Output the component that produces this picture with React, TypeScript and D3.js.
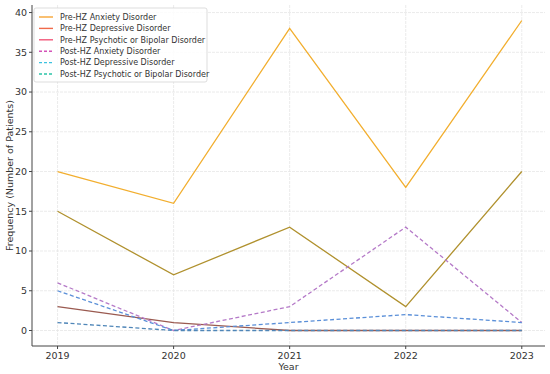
import * as d3 from "d3";

const years = [2019, 2020, 2021, 2022, 2023];
const yTicks = [0, 5, 10, 15, 20, 25, 30, 35, 40];

const preAnxiety = [20, 16, 38, 18, 39];
const preDepressive = [15, 7, 13, 3, 20];
const prePsychotic = [3, 1, 0, 0, 0];
const postAnxiety = [6, 0, 3, 13, 1];
const postDepressive = [5, 0, 1, 2, 1];
const postPsychotic = [1, 0, 0, 0, 0];

const seriesNames = [
  "Pre-HZ Anxiety Disorder",
  "Pre-HZ Depressive Disorder",
  "Pre-HZ Psychotic or Bipolar Disorder",
  "Post-HZ Anxiety Disorder",
  "Post-HZ Depressive Disorder",
  "Post-HZ Psychotic or Bipolar Disorder",
];

const seriesValues = [preAnxiety, preDepressive, prePsychotic, postAnxiety, postDepressive, postPsychotic];
const lineColors = ["#f2ae2e", "#b0912e", "#9a5a50", "#b57ac8", "#5a8fd8", "#4f86b8"];
const legendColors = ["#f7a535", "#f06a4a", "#f2587a", "#d452b8", "#3cc2e0", "#2bc4a8"];
const dashed = [false, false, false, true, true, true];

const W = 550;
const H = 374;
const margin = { top: 5, right: 5, bottom: 28, left: 32 };

export default function App() {
  const x = d3
    .scaleLinear()
    .domain([2018.78, 2023.2])
    .range([margin.left, W - margin.right]);
  const y = d3
    .scaleLinear()
    .domain([-1.95, 40.95])
    .range([H - margin.bottom, margin.top]);

  const line = d3
    .line<number>()
    .x((_, i) => x(years[i]))
    .y((d) => y(d));

  const font = "DejaVu Sans, sans-serif";
  const bottom = H - margin.bottom;

  return (
    <div style={{ position: "absolute", left: 0, top: 0 }}>
      <svg width={W} height={H} style={{ display: "block", background: "#fff" }}>
        {/* grid */}
        {years.map((yr) => (
          <line key={"gx" + yr} x1={x(yr)} x2={x(yr)} y1={margin.top} y2={bottom} stroke="#e6e6e6" strokeWidth={0.8} strokeDasharray="3,1" />
        ))}
        {yTicks.map((t) => (
          <line key={"gy" + t} x1={margin.left} x2={W - margin.right} y1={y(t)} y2={y(t)} stroke="#e6e6e6" strokeWidth={0.8} strokeDasharray="3,1" />
        ))}

        {/* series */}
        {seriesValues.map((vals, i) => (
          <path
            key={seriesNames[i]}
            d={line(vals) || ""}
            fill="none"
            stroke={lineColors[i]}
            strokeWidth={1.3}
            strokeDasharray={dashed[i] ? "4,2.5" : undefined}
          />
        ))}

        {/* axes */}
        <line x1={margin.left} x2={margin.left} y1={margin.top} y2={bottom} stroke="#444" strokeWidth={1} />
        <line x1={margin.left} x2={W - margin.right} y1={bottom} y2={bottom} stroke="#444" strokeWidth={1} />
        {yTicks.map((t) => (
          <g key={"ty" + t}>
            <line x1={margin.left - 3} x2={margin.left} y1={y(t)} y2={y(t)} stroke="#444" />
            <text x={margin.left - 5} y={y(t)} dy="0.35em" textAnchor="end" fontSize={9.5} fontFamily={font} fill="#333">
              {t}
            </text>
          </g>
        ))}
        {years.map((yr) => (
          <g key={"tx" + yr}>
            <line x1={x(yr)} x2={x(yr)} y1={bottom} y2={bottom + 3} stroke="#444" />
            <text x={x(yr)} y={bottom + 13} textAnchor="middle" fontSize={9.5} fontFamily={font} fill="#333">
              {yr}
            </text>
          </g>
        ))}
        <text x={(margin.left + W - margin.right) / 2} y={H - 4} textAnchor="middle" fontSize={9.5} fontFamily={font} fill="#333">
          Year
        </text>
        <text
          transform={`translate(13,${(margin.top + bottom) / 2}) rotate(-90)`}
          textAnchor="middle"
          fontSize={9.5}
          fontFamily={font}
          fill="#333"
        >
          Frequency (Number of Patients)
        </text>

        {/* legend */}
        <g transform="translate(34,8)">
          <rect x={0} y={0} width={173} height={74} rx={2} fill="#fff" fillOpacity={0.85} stroke="#d4d4d4" strokeWidth={0.8} />
          {seriesNames.map((name, i) => (
            <g key={"lg" + name} transform={`translate(0,${9 + i * 11.4})`}>
              <line x1={5} x2={19} y1={0} y2={0} stroke={legendColors[i]} strokeWidth={1.4} strokeDasharray={dashed[i] ? "3,2" : undefined} />
              <text x={26} y={0} dy="0.35em" fontSize={8} fontFamily={font} fill="#333">
                {name}
              </text>
            </g>
          ))}
        </g>
      </svg>
    </div>
  );
}
